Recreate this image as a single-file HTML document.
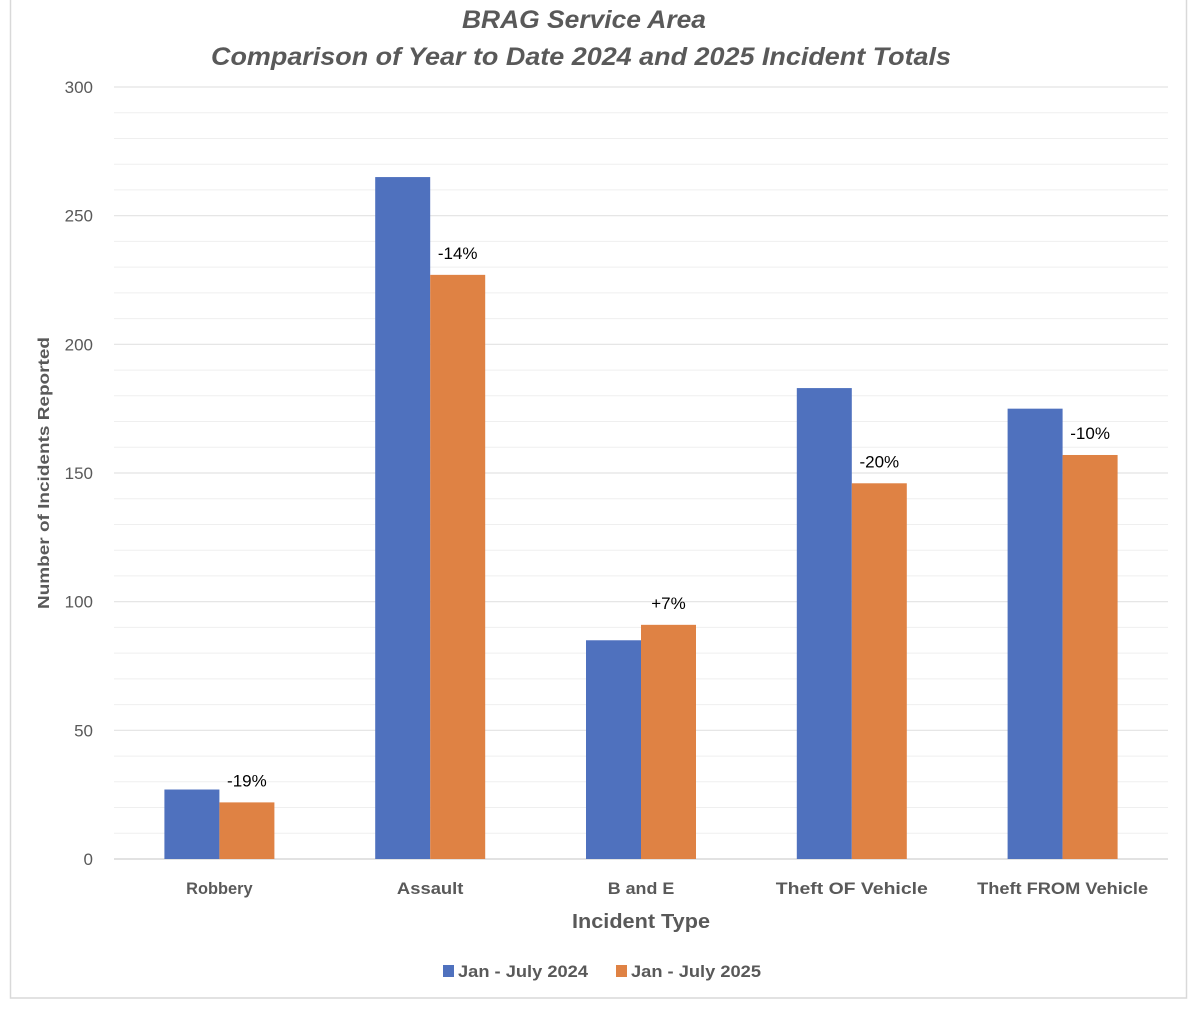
<!DOCTYPE html>
<html><head><meta charset="utf-8"><style>
html,body{margin:0;padding:0;background:#fff;width:1200px;height:1012px;overflow:hidden;font-family:"Liberation Sans",sans-serif}
</style></head><body>
<svg id="chart" width="1200" height="1012" xmlns="http://www.w3.org/2000/svg">
<rect x="10.5" y="-2" width="1176" height="1000" fill="#fff" stroke="#d9d9d9" stroke-width="1.5"/>
<text x="584" y="28" text-anchor="middle" font-size="25" font-weight="bold" font-style="italic" fill="#595959" textLength="244" lengthAdjust="spacingAndGlyphs">BRAG Service  Area</text>
<text x="581" y="65" text-anchor="middle" font-size="25" font-weight="bold" font-style="italic" fill="#595959" textLength="740" lengthAdjust="spacingAndGlyphs">Comparison of Year to Date 2024 and 2025 Incident Totals</text>
<g id="grid"></g><g id="bars"></g><g id="labels"></g>
<text transform="translate(49,473) rotate(-90)" text-anchor="middle" font-size="16" font-weight="bold" fill="#595959" textLength="272" lengthAdjust="spacingAndGlyphs">Number of Incidents Reported</text>
<text x="641" y="928" text-anchor="middle" font-size="20" font-weight="bold" fill="#595959" textLength="138" lengthAdjust="spacingAndGlyphs">Incident Type</text>
<rect x="443" y="965" width="11" height="12" fill="#4f71be"/>
<text x="458" y="977" font-size="17" font-weight="bold" fill="#595959" textLength="130" lengthAdjust="spacingAndGlyphs">Jan - July 2024</text>
<rect x="616" y="965" width="11" height="12" fill="#df8244"/>
<text x="631" y="977" font-size="17" font-weight="bold" fill="#595959" textLength="130" lengthAdjust="spacingAndGlyphs">Jan - July 2025</text>
</svg>
<script>
const categories=["Robbery","Assault","B and E","Theft OF Vehicle","Theft FROM Vehicle"];
const values2024=[27,265,85,183,175];
const values2025=[22,227,91,146,157];
const changeLabels=["-19%","-14%","+7%","-20%","-10%"];
const yTicks=[0,50,100,150,200,250,300];
const NS="http://www.w3.org/2000/svg";
const X0=114,X1=1168,Y0=859,Y1=87,YMAX=300,BW=55;
const y=v=>Y0-(v/YMAX)*(Y0-Y1);
const band=(X1-X0)/categories.length;
const xc=i=>X0+band*(i+0.5);
function mk(tag,attrs,parent,txt){const e=document.createElementNS(NS,tag);for(const k in attrs)e.setAttribute(k,attrs[k]);if(txt!==undefined)e.textContent=txt;document.getElementById(parent).appendChild(e);return e;}
for(let v=10;v<YMAX;v+=10){if(v%50===0)continue;
 const l=mk('line',{x1:X0,x2:X1,y1:y(v),y2:y(v),stroke:'#efefef','stroke-width':1},'grid');
 
 }
yTicks.forEach(t=>{
 const l=mk('line',{x1:X0,x2:X1,y1:y(t),y2:y(t),stroke:t===0?'#d9d9d9':'#e3e3e3','stroke-width':t===0?1.5:1.2},'grid');
 
 
 const tx=mk('text',{x:93,y:y(t)+6,'text-anchor':'end','font-size':17,fill:'#595959'},'grid',String(t));
 
 
});
categories.forEach((c,i)=>{
 const cx=xc(i);
 const b1=mk('rect',{x:cx-BW,y:y(values2024[i]),width:BW,height:Y0-y(values2024[i]),fill:'#4f71be'},'bars');
 
 
 const b2=mk('rect',{x:cx,y:y(values2025[i]),width:BW,height:Y0-y(values2025[i]),fill:'#df8244'},'bars');
 
 
 const lb=mk('text',{x:cx+BW/2,y:y(values2025[i])-16,'text-anchor':'middle','font-size':17,fill:'#000'},'labels',changeLabels[i]);
 
 
 const cl=mk('text',{x:cx,y:894,'text-anchor':'middle','font-size':17,'font-weight':'bold',fill:'#595959',textLength:c.length*9.5,lengthAdjust:'spacingAndGlyphs'},'labels',c);
 
 
});
</script>
</body></html>
